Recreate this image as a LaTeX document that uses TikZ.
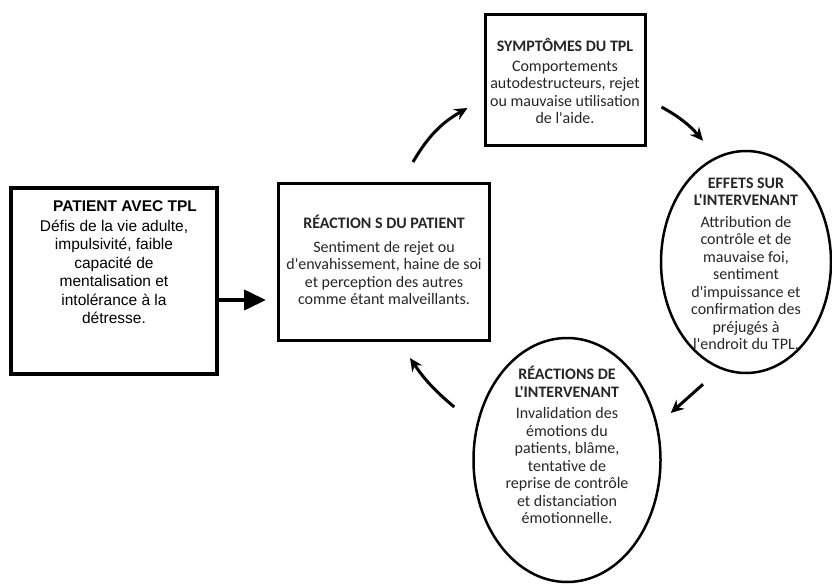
\documentclass[tikz,border=0pt]{standalone}
\usepackage{fontspec}
\newfontfamily\carlito{Carlito}
\newfontfamily\arialfont{Liberation Sans}
\usetikzlibrary{shapes.geometric,arrows.meta,positioning,calc}

\tikzset{
  boxshape/.style={draw, line width=3pt, inner sep=0pt},
  ovalshape/.style={draw, ellipse, line width=2.5pt, inner sep=0pt},
  boxtext/.style={align=center, inner sep=0pt, text=black!85,
    font=\carlito\fontsize{16}{17.5}\selectfont},
  flow/.style={line width=3pt, -{Stealth[length=13pt,width=12pt]}},
}

\begin{document}
\begin{tikzpicture}[x=1pt,y=-1pt]

	\useasboundingbox (0,0) rectangle (832,585);

	\node[boxshape, line width=4pt, minimum width=206pt, minimum height=185pt] (patient) at (114,281) {};
	\node[below=14pt of patient.north, align=center, inner sep=0pt,
		font=\arialfont\fontsize{15.5}{18.4}\selectfont] (patienttxt)
		{\hspace*{22pt}\textbf{PATIENT AVEC TPL}\\[1.5pt]
		 Défis de la vie adulte,\\ impulsivité, faible\\ capacité de\\
		 mentalisation et\\ intolérance à la\\ détresse.};

	\node[boxshape, minimum width=211pt, minimum height=157pt] (reaction) at (384,262) {};
	\node[boxtext, yshift=2pt] (reactiontxt) at (reaction.center)
		{\textbf{RÉACTION S DU PATIENT}\\[6.5pt]
		 Sentiment de rejet ou\\ d'envahissement, haine de soi\\
		 et perception des autres\\ comme étant malveillants.};

	\node[boxshape, minimum width=160pt, minimum height=131pt] (symptoms) at (565,80) {};
	\node[boxtext, yshift=-1pt] (symptomstxt) at (symptoms.center)
		{\textbf{SYMPTÔMES DU TPL}\\[2.5pt]
		 Comportements\\ autodestructeurs, rejet\\ ou mauvaise utilisation\\ de l'aide.};

	\node[ovalshape, minimum width=170pt, minimum height=222pt] (effets) at (746,262) {};
	\node[boxtext, yshift=-2pt] (effetstxt) at (effets.center)
		{\textbf{EFFETS SUR}\\ \textbf{L'INTERVENANT}\\[4pt]
		 Attribution de\\ contrôle et de\\ mauvaise foi,\\ sentiment\\
		 d'impuissance et\\ confirmation des\\ préjugés à\\ l'endroit du TPL.};

	\node[ovalshape, minimum width=187pt, minimum height=244pt] (interv) at (567,460) {};
	\node[boxtext, yshift=15pt] (intervtxt) at (interv.center)
		{\textbf{RÉACTIONS DE}\\ \textbf{L'INTERVENANT}\\[4pt]
		 Invalidation des\\ émotions du\\ patients, blâme,\\ tentative de\\
		 reprise de contrôle\\ et distanciation\\ émotionnelle.};

	\draw[line width=4pt, -{Triangle[length=22pt,width=20pt]}, shorten >=11pt]
		([yshift=-19pt]patient.east) -- ([yshift=-19pt]patient.east -| reaction.west);
	\draw[flow] ($(reaction.north)+(29,-20)$) to[bend left=15] ($(symptoms.west)+(-16,28)$);
	\draw[flow] ($(symptoms.east)+(15,27)$) to[bend left=10] ($(effets.north)+(-43,-9)$);
	\draw[flow] ($(effets.south)+(-43,10)$) -- ($(interv.east)+(9,-47)$);
	\draw[flow] ($(interv.west)+(-18,-53)$) to[bend left=8] ($(reaction.south)+(26,16)$);

\end{tikzpicture}
\end{document}
